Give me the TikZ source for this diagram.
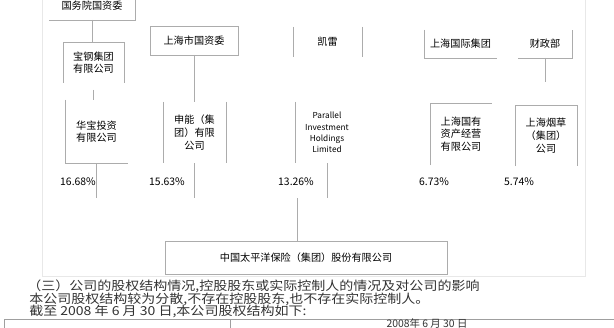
\documentclass[tikz,border=0pt]{standalone}
\usepackage{fontspec}
\newfontfamily\cjk{Noto Sans CJK SC}
\newfontfamily\cjkwide[FakeStretch=1.13]{Noto Sans CJK SC}
\begin{document}
\begin{tikzpicture}[x=0.75pt,y=-0.75pt,
  box/.style={inner sep=0pt, outer sep=0pt, align=center, font=\cjk\fontsize{7.6}{9.5}\selectfont, text=black},
  latbox/.style={box, font=\cjk\fontsize{6.2}{8.6}\selectfont},
  edge/.style={draw=gray!65, line width=0.7pt},
  frame/.style={draw=gray!18, line width=0.6pt},
  pct/.style={inner sep=0pt, font=\cjk\fontsize{7.8}{9}\selectfont, text=black},
  bodytext/.style={inner sep=0pt, anchor=west, font=\cjkwide\fontsize{9.3}{11}\selectfont, text=black!80},
  tabtext/.style={inner sep=0pt, font=\cjk\fontsize{7.8}{9}\selectfont, text=black!80}
]
\useasboundingbox (0,0) rectangle (614,328);
\fill[white] (0,0) rectangle (614,328);
% faint frame of the chart
\path[frame] (42,-2) rectangle (585,276);

% boxes
\node[box, minimum width=64.5pt, minimum height=21pt] (A) at (92,6) {国务院国资委};
\node[box, minimum width=45.75pt, minimum height=30.75pt] (B) at (93.5,62.5) {宝钢集团\\有限公司};
\node[box, minimum width=47.25pt, minimum height=47.25pt] (C) at (96.5,131.5) {华宝投资\\有限公司};
\node[box, minimum width=66pt, minimum height=21.75pt, edge] (D) at (194,40.5) {上海市国资委};
\node[box, minimum width=47.25pt, minimum height=45.75pt] (E) at (194.5,132.5) {申能（集\\团）有限\\公司};
\node[box, minimum width=51.75pt, minimum height=22.5pt] (F) at (327.5,42) {凯雷};
\node[latbox, minimum width=48pt, minimum height=45.75pt] (G) at (327,132.5) {Parallel\\Investment\\Holdings\\Limited};
\node[box, minimum width=54.75pt, minimum height=21pt] (H) at (460.5,44) {上海国际集团};
\node[box, minimum width=46.5pt, minimum height=46.5pt] (I) at (461,134) {上海国有\\资产经营\\有限公司};
\node[box, minimum width=40.5pt, minimum height=21pt] (J) at (545,44) {财政部};
\node[box, minimum width=46.5pt, minimum height=45.75pt] (K) at (546,135.5) {上海烟草\\（集团）\\公司};
\node[box, minimum width=211.5pt, minimum height=24.75pt, edge] (L) at (306,257.5) {中国太平洋保险（集团）股份有限公司};

% visible box edges
\draw[edge] (A.south west) -- (A.south east) -- (A.north east);
\draw[edge] (B.south west) -- (B.north west) -- (B.north east) -- (B.south east);
\draw[edge] (C.north west) -- (C.south west) -- (C.south east);
\draw[edge] (E.north west) -- (E.south west);
\draw[edge] (E.north east) -- (E.south east);
\draw[edge] (F.north west) -- (F.south west);
\draw[edge] (F.north east) -- (F.south east);
\draw[edge] (G.north west) -- (G.south west);
\draw[edge] (H.north west) -- (H.south west) -- (H.south east);
\draw[edge] (I.south west) -- (I.north west) -- (I.north east);
\draw[edge] (J.south west) -- (J.south east) -- (J.north east);
\draw[edge] (K.south west) -- (K.north west) -- (K.north east) -- (K.south east);

% connectors
\coordinate (bus) at (0,198);
\coordinate (g2) at (297,198);
\coordinate (k1) at (546,82);
\draw[edge] (A.south) -- (A.south |- B.north);
\draw[edge] ([yshift=-5.25pt]B.south) -- (B.south |- C.north);
\draw[edge] (D.south) -- (D.south |- E.north);
\draw[edge] (C.south) -- (C.south |- bus);
\draw[edge] (E.south) -- (E.south |- bus);
\draw[edge] (G.south) -- (G.south |- bus);
\draw[edge] (g2) -- (g2 |- L.north);
\draw[edge] (J.south) -- (J.south |- k1);

% percentages
\node[pct] (p1) at (78,182) {16.68\%};
\node[pct] (p2) at (167,182) {15.63\%};
\node[pct] (p3) at (296,182) {13.26\%};
\node[pct] (p4) at (434,182) {6.73\%};
\node[pct] (p5) at (519,182) {5.74\%};

% body text
\node[bodytext] (t1) at (27,286) {（三）公司的股权结构情况,控股股东或实际控制人的情况及对公司的影响};
\node[bodytext] (t2) at (29,299) {本公司股权结构较为分散,不存在控股股东,也不存在实际控制人。};
\node[bodytext] (t3) at (29,311.5) {截至 2008 年 6 月 30 日,本公司股权结构如下:};

% table start
\draw[edge, draw=gray!75] (4,330) -- (4,319) -- (616,319);
\draw[edge, draw=gray!75] (230,319) -- (230,330);
\node[tabtext] (t4) at (427,323.8) {2008年 6 月 30 日};
\end{tikzpicture}
\end{document}
